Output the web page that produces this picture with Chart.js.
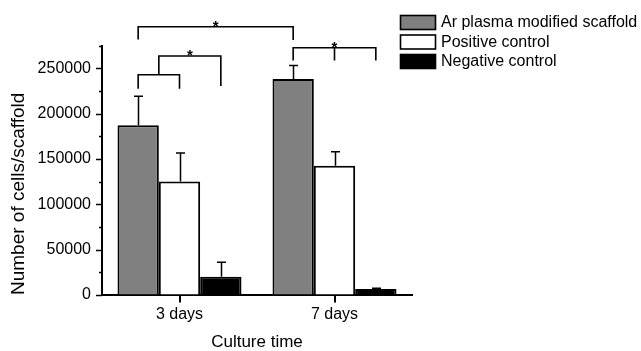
<!DOCTYPE html>
<html>
<head>
<meta charset="utf-8">
<script src="https://cdn.jsdelivr.net/npm/chart.js@4/dist/chart.umd.min.js"></script>
<style>
  html, body { margin: 0; padding: 0; background: #ffffff; }
  #wrap { width: 641px; height: 351px; }
</style>
</head>
<body>
<div id="wrap"><canvas id="c" width="641" height="351"></canvas></div>
<script>
// ---- data ----
const categories = ['3 days', '7 days'];
const seriesNames = ['Ar plasma modified scaffold', 'Positive control', 'Negative control'];
const arPlasma = [187000, 238000];
const arPlasmaErr = [32000, 15000];
const positiveCtl = [125000, 142500];
const positiveCtlErr = [31500, 15500];
const negativeCtl = [20000, 6500];
const negativeCtlErr = [16000, 1000];
const yTickValues = [0, 50000, 100000, 150000, 200000, 250000];
const yMinorTickValues = [25000, 75000, 125000, 175000, 225000, 275000];
const yMin = 0;
const yMax = 275000;
const xTitle = 'Culture time';
const yTitle = 'Number of cells/scaffold';

// significance brackets: [datasetIndex, categoryIndex] anchors, levels in data units
const sigBrackets = [
  { left: [0, 0], right: [0, 1], level: 295700, leftLeg: 281600, rightLeg: 281000, star: true },
  { left: [0, 0], right: [1, 0], level: 242800, leftLeg: 227300, rightLeg: 227300, star: false },
  { leftFromBracket: 1, right: [2, 0], level: 263400, rightLeg: 230400, star: true },
  { left: [0, 1], right: [2, 1], mid: [1, 1], level: 272600, leftLeg: 258500, rightLeg: 258500, midLeg: 258500, star: true, starAtMid: true }
];

const FONT = "'Liberation Sans', Arial, Helvetica, sans-serif";
const errors = [arPlasmaErr, positiveCtlErr, negativeCtlErr];

const overlay = {
  id: 'overlay',
  afterDraw(chart) {
    const ctx = chart.ctx;
    const ys = chart.scales.y;
    const xs = chart.scales.x;
    const area = chart.chartArea;
    ctx.save();
    ctx.strokeStyle = '#000';
    ctx.fillStyle = '#000';
    ctx.lineCap = 'butt';

    // y axis tick marks (major + minor)
    ctx.lineWidth = 1.5;
    const tickMark = (v, len) => {
      const py = Math.round(ys.getPixelForValue(v)) + 0.5;
      ctx.beginPath();
      ctx.moveTo(area.left - len, py);
      ctx.lineTo(area.left, py);
      ctx.stroke();
    };
    yTickValues.forEach(v => tickMark(v, 6));
    yMinorTickValues.forEach(v => tickMark(v, 3));
    // x axis tick marks at category centres
    ctx.lineWidth = 2;
    categories.forEach((c, i) => {
      const px = Math.round(xs.getPixelForValue(i));
      ctx.beginPath();
      ctx.moveTo(px, area.bottom);
      ctx.lineTo(px, area.bottom + 7.5);
      ctx.stroke();
    });

    // error bars (upper only)
    ctx.lineWidth = 1.5;
    chart.data.datasets.forEach((ds, di) => {
      const meta = chart.getDatasetMeta(di);
      meta.data.forEach((bar, ci) => {
        const v = ds.data[ci];
        const e = errors[di][ci];
        const x = Math.round(bar.x) + 0.5;
        const y0 = ys.getPixelForValue(v);
        const y1 = ys.getPixelForValue(v + e);
        ctx.beginPath();
        ctx.moveTo(x, y0);
        ctx.lineTo(x, y1);
        ctx.moveTo(x - 4.5, y1);
        ctx.lineTo(x + 4.5, y1);
        ctx.stroke();
      });
    });

    // significance brackets
    const barX = (ref) => chart.getDatasetMeta(ref[0]).data[ref[1]].x;
    const geo = [];
    ctx.lineWidth = 1.6;
    ctx.font = 'bold 15px ' + FONT;
    ctx.textAlign = 'center';
    ctx.textBaseline = 'alphabetic';
    sigBrackets.forEach((b, bi) => {
      const yl = ys.getPixelForValue(b.level);
      let xl, ylLeg;
      if (b.leftFromBracket !== undefined) {
        const g = geo[b.leftFromBracket];
        xl = (g.xl + g.xr) / 2;
        ylLeg = g.y;
      } else {
        xl = barX(b.left);
        ylLeg = ys.getPixelForValue(b.leftLeg);
      }
      const xr = barX(b.right);
      const yrLeg = ys.getPixelForValue(b.rightLeg);
      ctx.beginPath();
      ctx.moveTo(xl, ylLeg);
      ctx.lineTo(xl, yl);
      ctx.lineTo(xr, yl);
      ctx.lineTo(xr, yrLeg);
      let sx = (xl + xr) / 2;
      if (b.mid) {
        const xm = barX(b.mid);
        ctx.moveTo(xm, yl);
        ctx.lineTo(xm, ys.getPixelForValue(b.midLeg));
        if (b.starAtMid) sx = xm;
      }
      ctx.stroke();
      geo[bi] = { xl, xr, y: yl };
      if (b.star) ctx.fillText('*', sx, yl + 4);
    });

    // legend
    ctx.font = '16px ' + FONT;
    ctx.textAlign = 'left';
    ctx.textBaseline = 'middle';
    chart.data.datasets.forEach((ds, di) => {
      const cy = 22.5 + di * 19.5;
      ctx.fillStyle = ds.backgroundColor;
      ctx.fillRect(400, cy - 7.5, 36, 15);
      ctx.lineWidth = 1.6;
      ctx.strokeStyle = '#000';
      ctx.strokeRect(400.5, cy - 7, 35, 14);
      ctx.fillStyle = '#000';
      ctx.fillText(ds.label, 441, cy + 0.5);
    });
    ctx.restore();
  }
};

const barStyle = { borderColor: '#000000', borderWidth: 2, borderSkipped: 'start', categoryPercentage: 0.8, barPercentage: 1.0 };

new Chart(document.getElementById('c'), {
  type: 'bar',
  data: {
    labels: categories,
    datasets: [
      Object.assign({ label: seriesNames[0], data: arPlasma, backgroundColor: '#808080' }, barStyle),
      Object.assign({ label: seriesNames[1], data: positiveCtl, backgroundColor: '#ffffff' }, barStyle),
      Object.assign({ label: seriesNames[2], data: negativeCtl, backgroundColor: '#000000' }, barStyle)
    ]
  },
  options: {
    responsive: false,
    animation: false,
    devicePixelRatio: 1,
    layout: { padding: { left: 0, right: 229, top: 45.5, bottom: 0 } },
    plugins: { legend: { display: false }, tooltip: { enabled: false } },
    scales: {
      x: {
        offset: true,
        grid: { display: true, drawOnChartArea: false, drawTicks: false },
        border: { display: true, color: '#000', width: 2 },
        ticks: { color: '#000', font: { family: FONT, size: 16 }, padding: 10 },
        title: { display: true, text: xTitle, color: '#000', font: { family: FONT, size: 17 }, padding: { top: 0, bottom: -1.5 } },
        afterFit(scale) { scale.height = 56; }
      },
      y: {
        min: yMin,
        max: yMax,
        grid: { display: true, drawOnChartArea: false, drawTicks: false },
        border: { display: true, color: '#000', width: 2 },
        ticks: { color: '#000', font: { family: FONT, size: 16 }, padding: 11, autoSkip: false, callback: (v) => String(v) },
        afterBuildTicks(scale) { scale.ticks = yTickValues.map(v => ({ value: v })); },
        title: { display: true, text: yTitle, align: 'start', color: '#000', font: { family: FONT, size: 19 }, padding: { top: 7, bottom: 0 } },
        afterFit(scale) { scale.width = 102; }
      }
    }
  },
  plugins: [overlay]
});
</script>
</body>
</html>
